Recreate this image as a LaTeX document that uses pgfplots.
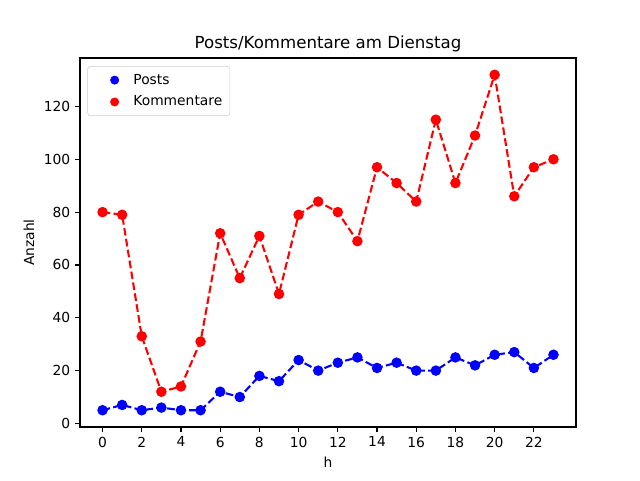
\documentclass[border=0pt]{standalone}
\usepackage{fontspec}
\setmainfont{DejaVu Sans}
\usepackage{pgfplots}
\pgfplotsset{compat=1.18}
\begin{document}
\begin{tikzpicture}[x=1bp,y=1bp]
\path (0,0) rectangle (460.8,345.6);
\begin{axis}[
  at={(57.6bp,38.16bp)}, anchor=south west,
  scale only axis, width=357.12bp, height=265.68bp,
  xmin=-1.15, xmax=24.15, ymin=-1.35, ymax=138.35,
  xtick={0,2,...,22}, ytick={0,20,...,120},
  tick align=outside, major tick length=3.5bp,
  xtick pos=bottom, ytick pos=left,
  /pgf/number format/assume math mode=true,
  tick label style={font=\fontsize{10}{12}\selectfont},
  label style={font=\fontsize{10}{12}\selectfont},
  xlabel={h}, ylabel={Anzahl},
  title={Posts/Kommentare am Dienstag},
  title style={font=\fontsize{12}{14}\selectfont, yshift=-5.5bp},
  axis line style={line width=0.8bp},
  every tick/.style={line width=0.8bp, black},
  legend style={font=\fontsize{10}{12}\selectfont, draw=black!20, rounded corners=2bp, at={(0.015,0.978)}, anchor=north west, row sep=3bp, inner sep=3.5bp},
  legend cell align=left,
  legend image code/.code={\fill[#1] (15.7bp,0) circle (3bp);\path (0,0) (27bp,0);},
]
\addplot[blue, line width=1.5bp, dash pattern=on 5.55bp off 2.4bp, mark=*, mark size=3bp, mark options={solid}, forget plot] coordinates {
(0,5)(1,7)(2,5)(3,6)(4,5)(5,5)(6,12)(7,10)(8,18)(9,16)(10,24)(11,20)(12,23)(13,25)(14,21)(15,23)(16,20)(17,20)(18,25)(19,22)(20,26)(21,27)(22,21)(23,26)};
\addplot[red, line width=1.5bp, dash pattern=on 5.55bp off 2.4bp, mark=*, mark size=3bp, mark options={solid}, forget plot] coordinates {
(0,80)(1,79)(2,33)(3,12)(4,14)(5,31)(6,72)(7,55)(8,71)(9,49)(10,79)(11,84)(12,80)(13,69)(14,97)(15,91)(16,84)(17,115)(18,91)(19,109)(20,132)(21,86)(22,97)(23,100)};
\addlegendimage{blue}\addlegendentry{Posts}
\addlegendimage{red}\addlegendentry{Kommentare}
\end{axis}
\end{tikzpicture}
\end{document}
